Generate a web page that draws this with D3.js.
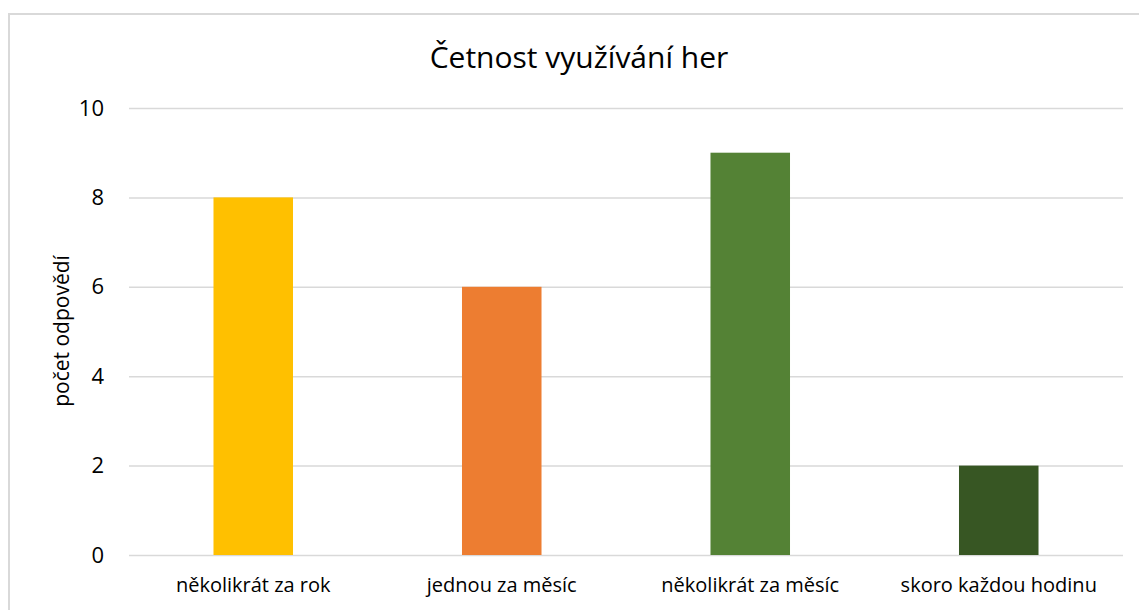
<!DOCTYPE html>
<html><head><meta charset="utf-8">
<script src="https://cdn.jsdelivr.net/npm/d3@7"></script>
<style>body{margin:0;background:#fff;} svg{display:block;font-family:"Open Sans","Noto Sans",sans-serif;}</style>
</head><body>
<script>
const categories = ["několikrát za rok","jednou za měsíc","několikrát za měsíc","skoro každou hodinu"];
const values = [8, 6, 9, 2];
const colors = ["#FFC000","#ED7D31","#548235","#375623"];
const yTicks = [0,2,4,6,8,10];
const title = "Četnost využívání her";
const yTitle = "počet odpovědí";

const W = 1139, H = 610;
const m = {left:129, right:16, top:108, bottom:55};
const svg = d3.select("body").append("svg").attr("width",W).attr("height",H);
svg.append("rect").attr("x",9).attr("y",14).attr("width",W+10).attr("height",H+10)
  .attr("fill","#fff").attr("stroke","#d9d9d9").attr("stroke-width",2);

const x = d3.scaleBand().domain(categories).range([m.left, W-m.right]).paddingInner(0.68).paddingOuter(0.34);
const y = d3.scaleLinear().domain([0,10]).range([H-m.bottom, m.top]);

const yAxis = svg.append("g").attr("transform",`translate(${m.left},0)`)
  .call(d3.axisLeft(y).tickValues(yTicks).tickSize(-(W-m.right-m.left)).tickPadding(25));
yAxis.select(".domain").remove();
yAxis.selectAll("line").attr("stroke","#d9d9d9").attr("stroke-width",1.5);
yAxis.selectAll("text").attr("font-size",22).attr("fill","#000").attr("font-family","Open Sans");

svg.selectAll(".bar").data(values).enter().append("rect")
  .attr("x",(d,i)=>x(categories[i])).attr("width",x.bandwidth())
  .attr("y",d=>y(d)).attr("height",d=>y(0)-y(d))
  .attr("fill",(d,i)=>colors[i]);

const xAxis = svg.append("g").attr("transform",`translate(0,${H-m.bottom})`)
  .call(d3.axisBottom(x).tickSize(0).tickPadding(23));
xAxis.select(".domain").remove();
xAxis.selectAll("text").attr("font-size",20).attr("fill","#000").attr("font-family","Open Sans");

svg.append("text").attr("x",579).attr("y",68).attr("text-anchor","middle")
  .attr("font-size",30).attr("fill","#000").text(title);
svg.append("text").attr("transform",`translate(69,331) rotate(-90)`).attr("text-anchor","middle")
  .attr("font-size",21).attr("fill","#000").text(yTitle);
</script>
</body></html>
